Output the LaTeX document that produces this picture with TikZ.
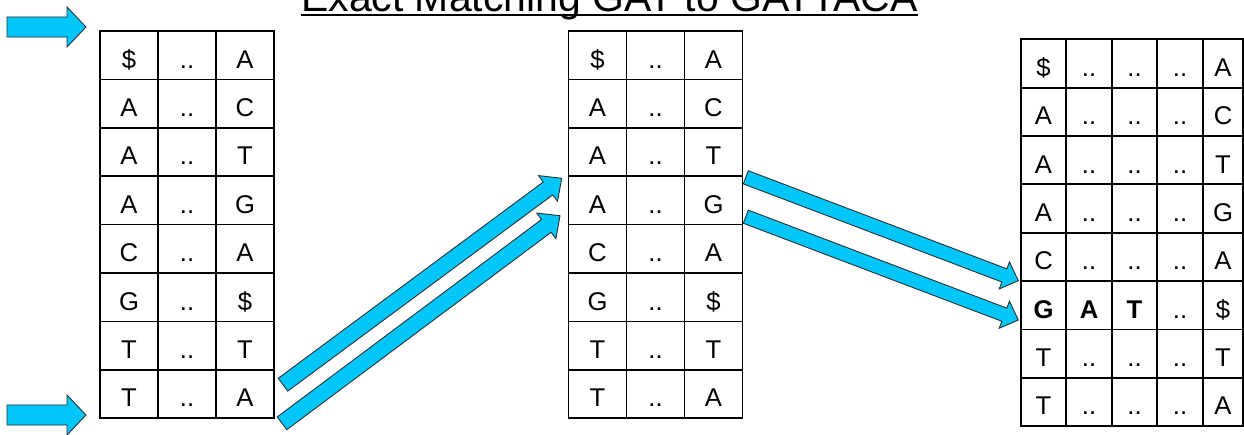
\documentclass[tikz,border=0pt]{standalone}
\usepackage{fontspec}
\setmainfont{Liberation Sans}
\usepackage{tikz}
\usetikzlibrary{calc}
\definecolor{arrowblue}{RGB}{0,198,250}
\definecolor{arrowline}{RGB}{45,45,45}
\tikzset{
	cell/.style={draw, line width=1pt, minimum width=#1, minimum height=0.968cm, inner sep=0pt,
		text height=0.52cm, text depth=0pt, font=\fontsize{14.6}{16}\selectfont},
	cell/.default=1.16cm,
	bluearrow/.style={fill=arrowblue, draw=arrowline, line width=0.5pt, line join=miter},
	title/.style={inner sep=0pt, anchor=base, font=\fontsize{23.3}{26}\selectfont}
}
\def\blockarrow(#1)(#2)(#3:#4:#5){\coordinate (hb) at ($(#2)!#5!(#1)$);
	\draw[bluearrow] ($(#1)!#3!90:(#2)$) -- ($(hb)!#3!90:(#2)$) -- ($(hb)!#4!90:(#2)$) -- (#2)
		-- ($(hb)!#4!-90:(#2)$) -- ($(hb)!#3!-90:(#2)$) -- ($(#1)!#3!-90:(#2)$) -- cycle;}

\begin{document}
\begin{tikzpicture}[x=0.02cm, y=-0.02cm]
		%%%%% START %%%%%
		\useasboundingbox (0,0) rectangle (1244,435);
		
		\node[title] (title) at (609.5,12) {Exact Matching GAT to GATTACA};
		\draw[line width=0.85pt] ([yshift=-1.7pt]title.base west) -- ([yshift=-1.7pt]title.base east);
		
		% left and middle tables
		\foreach \a/\b [count=\r] in {\$/A, A/C, A/T, A/G, C/A, G/\$, T/T, T/A} {
			\node[cell] (l-\r-1) at (129,{55.2+48.4*(\r-1)}) {\a};
			\node[cell] (l-\r-2) at (187,{55.2+48.4*(\r-1)}) {..};
			\node[cell] (l-\r-3) at (245,{55.2+48.4*(\r-1)}) {\b};
			\node[cell] (m-\r-1) at (597.5,{55.2+48.4*(\r-1)}) {\a};
			\node[cell] (m-\r-2) at (655.5,{55.2+48.4*(\r-1)}) {..};
			\node[cell] (m-\r-3) at (713.5,{55.2+48.4*(\r-1)}) {\b};
		}
		
		% right table
		\foreach \a/\b/\c/\d/\e [count=\r] in {\$/../../../A, A/../../../C, A/../../../T, A/../../../G,
				C/../../../A, \textbf{G}/\textbf{A}/\textbf{T}/../\$, T/../../../T, T/../../../A} {
			\node[cell=0.91cm] (r-\r-1) at (1043.5,{63.5+48.35*(\r-1)}) {\a};
			\node[cell=0.91cm] (r-\r-2) at (1089,{63.5+48.35*(\r-1)}) {\b};
			\node[cell=0.91cm] (r-\r-3) at (1134.5,{63.5+48.35*(\r-1)}) {\c};
			\node[cell=0.91cm] (r-\r-4) at (1180,{63.5+48.35*(\r-1)}) {\d};
			\node[cell=0.81cm] (r-\r-5) at (1223,{63.5+48.35*(\r-1)}) {\e};
		}
		
		% arrows
		\coordinate (t1) at (7,27);
		\coordinate (h1) at (86,27);
		\coordinate (t2) at (7,415);
		\coordinate (h2) at (86,415);
		\coordinate (t3) at (283,384.7);
		\coordinate (h3) at (561.7,178.3);
		\coordinate (t4) at (282,423.3);
		\coordinate (h4) at (560,215.7);
		\coordinate (t5) at (745.8,177.3);
		\coordinate (h5) at (1018.3,280.7);
		\coordinate (t6) at (745.8,216.7);
		\coordinate (h6) at (1018.3,320);
		
		\blockarrow(t1)(h1)(5.7pt:11.4pt:10.8pt)
		\blockarrow(t2)(h2)(5.7pt:11.4pt:10.8pt)
		\blockarrow(t3)(h3)(4.55pt:9.1pt:9.7pt)
		\blockarrow(t4)(h4)(4.55pt:9.1pt:9.7pt)
		\blockarrow(t5)(h5)(4pt:8.25pt:8.5pt)
		\blockarrow(t6)(h6)(4pt:8.25pt:8.5pt)
		%%%%% END %%%%%
	\end{tikzpicture}
\end{document}
